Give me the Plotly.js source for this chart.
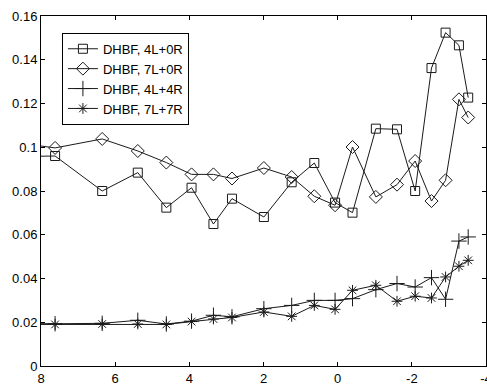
<!DOCTYPE html>
<html>
<head>
<meta charset="utf-8">
<script src="https://cdn.plot.ly/plotly-3.0.1.min.js"></script>
<style>html,body{margin:0;padding:0;background:#fff;}#chart{width:487px;height:385px;}</style>
</head>
<body>
<div id="chart"></div>
<script>
var xPos = [8.4, 7.62, 6.35, 5.39, 4.62, 3.94, 3.35, 2.85, 1.99, 1.24, 0.63, 0.07, -0.40, -1.03, -1.60, -2.09, -2.53, -2.91, -3.27, -3.52];
var s4L0R = [0.0958, 0.096, 0.080, 0.0884, 0.0724, 0.0815, 0.0649, 0.0765, 0.0681, 0.0840, 0.0928, 0.0747, 0.0701, 0.1085, 0.1082, 0.080, 0.1362, 0.1524, 0.1466, 0.1227];
var s7L0R = [0.1015, 0.0997, 0.1038, 0.0983, 0.0930, 0.0876, 0.0876, 0.0857, 0.0905, 0.0864, 0.0776, 0.0735, 0.1001, 0.0773, 0.0829, 0.0937, 0.0754, 0.0849, 0.1219, 0.1136];
var s4L4R = [0.0194, 0.0193, 0.0195, 0.0209, 0.0192, 0.0205, 0.0232, 0.0225, 0.0262, 0.0277, 0.0300, 0.0300, 0.0308, 0.0349, 0.0377, 0.0361, 0.0404, 0.0305, 0.0571, 0.0590];
var s7L7R = [0.0190, 0.0190, 0.0192, 0.0192, 0.0190, 0.0203, 0.0215, 0.0222, 0.0247, 0.0227, 0.0277, 0.0259, 0.0346, 0.0369, 0.0296, 0.0319, 0.0311, 0.0407, 0.0456, 0.0483];
var names = ['DHBF, 4L+0R', 'DHBF, 7L+0R', 'DHBF, 4L+4R', 'DHBF, 7L+7R'];
var xTickVals = [8, 6, 4, 2, 0, -2, -4];
var xTickText = ['8', '6', '4', '2', '0', '-2', '-4'];

function tr(y, name, sym, size) {
  return {
    x: xPos, y: y, name: name, type: 'scatter', mode: 'lines+markers',
    line: {color: '#1a1a1a', width: 1},
    marker: {symbol: sym, size: size, color: '#1a1a1a', line: {color: '#1a1a1a', width: 1}}
  };
}
var data = [
  tr(s4L0R, names[0], 'square-open', 9),
  tr(s7L0R, names[1], 'diamond-open', 10),
  tr(s4L4R, names[2], 'cross-thin-open', 11),
  tr(s7L7R, names[3], 'asterisk-open', 9)
];
var FONT = 'Liberation Sans, Arial, sans-serif';
var axisCommon = {
  showgrid: false, zeroline: false, showline: true, linecolor: '#000', linewidth: 1,
  mirror: 'ticks', ticks: 'inside', ticklen: 4, tickcolor: '#000',
  ticklabeloverflow: 'allow',
  tickfont: {family: FONT, size: 13, color: '#000'}
};
var layout = {
  width: 487, height: 385,
  margin: {l: 41, r: 1, t: 16, b: 19},
  paper_bgcolor: '#fff', plot_bgcolor: '#fff',
  showlegend: true,
  font: {family: FONT, size: 13, color: '#000'},
  xaxis: Object.assign({}, axisCommon, {range: [8, -4], tickmode: 'array', tickvals: xTickVals, ticktext: xTickText}),
  yaxis: Object.assign({}, axisCommon, {range: [0, 0.16], dtick: 0.02, tick0: 0}),
  legend: {x: 0.047, y: 0.952, xanchor: 'left', yanchor: 'top', bgcolor: '#fff', bordercolor: '#000', borderwidth: 1,
           font: {family: FONT, size: 13, color: '#000'}, itemwidth: 30, tracegroupgap: 0}
};
Plotly.newPlot('chart', data, layout, {displayModeBar: false, staticPlot: true});
</script>
</body>
</html>
